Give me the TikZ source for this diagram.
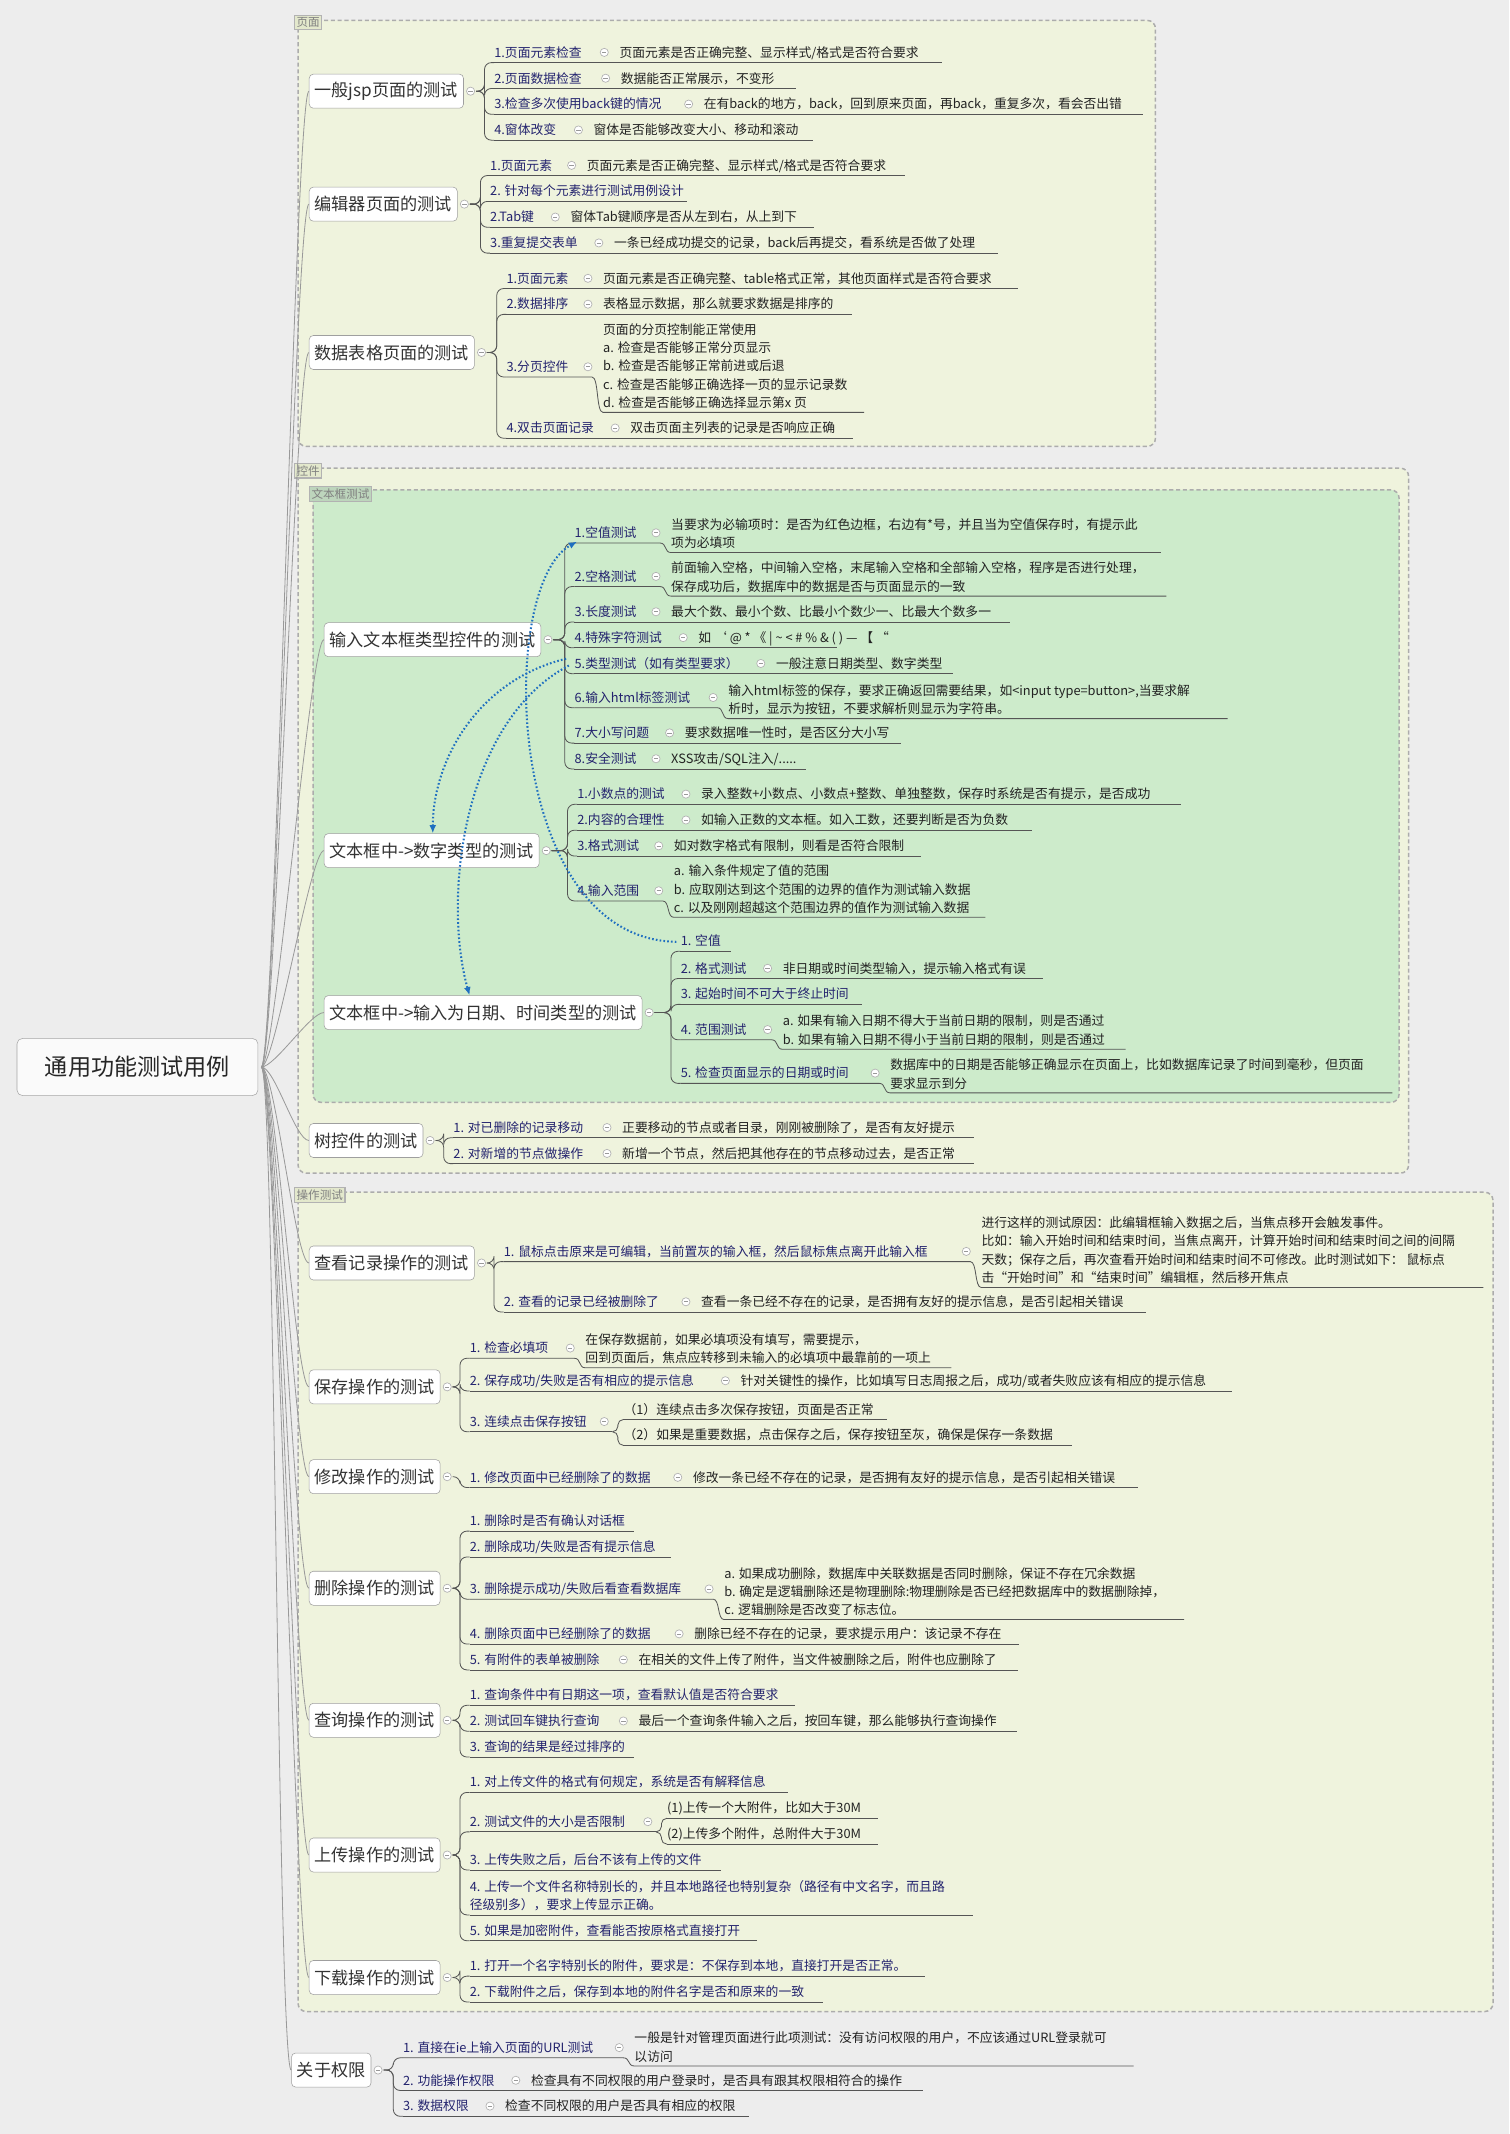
\documentclass[tikz,border=0pt]{standalone}
\usepackage{fontspec}
\setmainfont{Noto Sans CJK SC}
\usetikzlibrary{calc,arrows.meta}
\definecolor{bgc}{HTML}{EDEDED}
\definecolor{grpc}{HTML}{EFF3DD}
\definecolor{grnc}{HTML}{CDEBCB}
\definecolor{labc}{HTML}{23236E}
\definecolor{dscc}{HTML}{222222}
\definecolor{lnc}{HTML}{555555}
\definecolor{relc}{HTML}{1F6FC0}
\definecolor{tagc}{HTML}{E3E8CC}
\newcommand\fsA{\fontsize{9.4}{13.5}\selectfont}
\tikzset{
 lab/.style={text=labc,font=\fsA,inner sep=0pt,anchor=base west,align=left},
 dsc/.style={text=dscc,font=\fsA,inner sep=0pt,anchor=south west,align=left},
 uline/.style={draw=lnc,line width=0.6pt},
 brl/.style={draw=lnc,line width=0.6pt,rounded corners=5pt},
 rootl/.style={draw=gray!80,line width=0.6pt},
 mainn/.style={draw=gray!75,fill=white,rounded corners=3pt,font=\fontsize{12.6}{14}\selectfont,text=black!80,minimum height=25pt,inner xsep=4pt,anchor=west},
 grp/.style={draw=gray!65,line width=1.1pt,rounded corners=6pt,dash pattern=on 3pt off 2pt},
 tagn/.style={draw=gray!60,fill=tagc,line width=0.9pt,font=\fontsize{8.5}{9}\selectfont,text=gray,inner sep=1.5pt,anchor=north west},
 rel/.style={draw=relc,line width=1.5pt,dash pattern=on 1.2pt off 1.6pt,-{Latex[length=6pt,width=5pt]}},
}
\newcommand\Mk[2]{\draw[gray!60,fill=white,line width=0.5pt] (#1,#2) circle[radius=3];
 \draw[gray!80,line width=0.5pt] (#1-1.6,#2) -- (#1+1.6,#2);}
\newcommand\LfA[7]{\coordinate (#1) at (#2,#3);
 \node[lab] at (#2,#3-4) {#4};
 \node[dsc,anchor=base west] at (#5,#3-4) {#6};
 \Mk{#5-11}{#3-7.5}
 \draw[uline] (#2,#3) -- (#7,#3);}
\newcommand\LfS[5]{\coordinate (#1) at (#2,#3);
 \node[lab] at (#2,#3-4) {#4};
 \draw[uline] (#2,#3) -- (#5,#3);}
\newcommand\LfD[5]{\coordinate (#1) at (#2,#3);
 \node[dsc,anchor=base west] at (#2,#3-4) {#4};
 \draw[uline] (#2,#3) -- (#5,#3);}
\newcommand\LfM[8]{\coordinate (#1) at (#2,#3);
 \node[lab] at (#2,#3-4) {#4};
 \node[dsc] at (#5,#7-2.5) {#6};
 \Mk{#5-11}{#3-7.5}
 \draw[uline] (#2,#3) -- (#5-8,#3) .. controls (#5-3,#3) and (#5-5,#7) .. (#5,#7) -- (#8,#7);}
\newcommand\Br[2]{\draw[brl] (#1) -| ($(#2)+(-7,0)$) -- (#2);}
\newcommand\MainN[4]{\node[mainn] (#1) at (#2,#3) {#4};
 \path (#1.east) ++(5,0) coordinate (#1M) ++(4,0) coordinate (#1P);
 \draw[gray!60,fill=white,line width=0.5pt] (#1M) circle[radius=3];
 \draw[gray!80,line width=0.5pt] ($(#1M)+(-1.6,0)$) -- ($(#1M)+(1.6,0)$);}
\begin{document}
\begin{tikzpicture}[x=1pt,y=-1pt]
\fill[bgc] (0,0) rectangle (1109,1568);
\useasboundingbox (0,0) rectangle (1109,1568);
\filldraw[grp,fill=grpc] (219,15) rectangle (849,328);
\node[tagn] at (216,11) {页面};
\filldraw[grp,fill=grpc] (219,344) rectangle (1035,862);
\node[tagn] at (216,340) {控件};
\filldraw[grp,fill=grnc] (230,360) rectangle (1028,810);
\node[tagn,fill=grnc!80!gray] at (227,357) {文本框测试};
\filldraw[grp,fill=grpc] (219,876) rectangle (1097,1478);
\node[tagn] at (216,872) {操作测试};
\node[draw=gray!70,fill=white!96!gray,rounded corners=4pt,font=\fontsize{17}{18}\selectfont,text=black!85,minimum width=177pt,minimum height=42pt] (root) at (101,784) {通用功能测试用例};
\coordinate (rP) at (192,784);
\MainN{m1}{227}{67}{一般jsp页面的测试}
\MainN{m2}{227}{150}{编辑器页面的测试}
\MainN{m3}{227}{259}{数据表格页面的测试}
\MainN{m4}{238}{470}{输入文本框类型控件的测试}
\MainN{m5}{238}{625}{文本框中->数字类型的测试}
\MainN{m6}{238}{744}{文本框中->输入为日期、时间类型的测试}
\MainN{m7}{227}{838}{树控件的测试}
\MainN{m8}{227}{928}{查看记录操作的测试}
\MainN{m9}{227}{1019}{保存操作的测试}
\MainN{m10}{227}{1085}{修改操作的测试}
\MainN{m11}{227}{1167}{删除操作的测试}
\MainN{m12}{227}{1264}{查询操作的测试}
\MainN{m13}{227}{1363}{上传操作的测试}
\MainN{m14}{227}{1453}{下载操作的测试}
\MainN{m15}{214}{1521}{关于权限}
\foreach \q in {m1,m2,m3,m4,m5,m6,m7,m8,m9,m10,m11,m12,m13,m14,m15}
  {\draw[rootl] (rP) .. controls +(10,0) and +(-10,0) .. (\q.west);}
\LfA{a1}{363}{46}{1.页面元素检查}{455}{页面元素是否正确完整、显示样式/格式是否符合要求}{692}
\LfA{a2}{363}{65}{2.页面数据检查}{456}{数据能否正常展示，不变形}{585}
\LfA{a3}{363}{84}{3.检查多次使用back键的情况}{517}{在有back的地方，back，回到原来页面，再back，重复多次，看会否出错}{840}
\LfA{a4}{363}{103}{4.窗体改变}{436}{窗体是否能够改变大小、移动和滚动}{597}
\foreach \q in {a1,a2,a3,a4} {\Br{m1P}{\q}}
\LfA{b1}{360}{129}{1.页面元素}{431}{页面元素是否正确完整、显示样式/格式是否符合要求}{665}
\LfS{b2}{360}{148}{2. 针对每个元素进行测试用例设计}{505}
\LfA{b3}{360}{167}{2.Tab键}{419}{窗体Tab键顺序是否从左到右，从上到下}{598}
\LfA{b4}{360}{186}{3.重复提交表单}{451}{一条已经成功提交的记录，back后再提交，看系统是否做了处理}{733}
\foreach \q in {b1,b2,b3,b4} {\Br{m2P}{\q}}
\LfA{c1}{372}{212}{1.页面元素}{443}{页面元素是否正确完整、table格式正常，其他页面样式是否符合要求}{748}
\LfA{c2}{372}{231}{2.数据排序}{443}{表格显示数据，那么就要求数据是排序的}{626}
\LfM{c3}{372}{277}{3.分页控件}{443}{页面的分页控制能正常使用\\a. 检查是否能够正常分页显示\\b. 检查是否能够正常前进或后退\\c. 检查是否能够正确选择一页的显示记录数\\d. 检查是否能够正确选择显示第x 页}{303}{635}
\LfA{c4}{372}{322}{4.双击页面记录}{463}{双击页面主列表的记录是否响应正确}{627}
\foreach \q in {c1,c2,c3,c4} {\Br{m3P}{\q}}
\LfM{d1}{422}{399}{1.空值测试}{493}{当要求为必输项时：是否为红色边框，右边有*号，并且当为空值保存时，有提示此\\项为必填项}{406}{853}
\LfM{d2}{422}{431}{2.空格测试}{493}{前面输入空格，中间输入空格，末尾输入空格和全部输入空格，程序是否进行处理，\\保存成功后，数据库中的数据是否与页面显示的一致}{438}{857}
\LfA{d3}{422}{457}{3.长度测试}{493}{最大个数、最小个数、比最小个数少一、比最大个数多一}{742}
\LfA{d4}{422}{476}{4.特殊字符测试}{513}{如 ‘ @ * 《 | \textasciitilde\ < \# \% \& ( ) — 【 “}{615}
\LfA{d5}{422}{495}{5.类型测试（如有类型要求）}{570}{一般注意日期类型、数字类型}{700}
\LfM{d6}{422}{520}{6.输入html标签测试}{535}{输入html标签的保存，要求正确返回需要结果，如<input type=button>,当要求解\\析时，显示为按钮，不要求解析则显示为字符串。}{528}{902}
\LfA{d7}{422}{546}{7.大小写问题}{503}{要求数据唯一性时，是否区分大小写}{662}
\LfA{d8}{422}{565}{8.安全测试}{493}{XSS攻击/SQL注入/.....}{592}
\foreach \q in {d1,d2,d3,d4,d5,d6,d7,d8} {\Br{m4P}{\q}}
\LfA{e1}{424}{591}{1.小数点的测试}{515}{录入整数+小数点、小数点+整数、单独整数，保存时系统是否有提示，是否成功}{868}
\LfA{e2}{424}{610}{2.内容的合理性}{515}{如输入正数的文本框。如入工数，还要判断是否为负数}{758}
\LfA{e3}{424}{629}{3.格式测试}{495}{如对数字格式有限制，则看是否符合限制}{677}
\LfM{e4}{424}{662}{4.输入范围}{495}{a. 输入条件规定了值的范围\\b. 应取刚达到这个范围的边界的值作为测试输入数据\\c. 以及刚刚超越这个范围边界的值作为测试输入数据}{674}{724}
\foreach \q in {e1,e2,e3,e4} {\Br{m5P}{\q}}
\LfS{f1}{500}{699}{1. 空值}{537}
\LfA{f2}{500}{719}{2. 格式测试}{575}{非日期或时间类型输入，提示输入格式有误}{766}
\LfS{f3}{500}{738}{3. 起始时间不可大于终止时间}{633}
\LfM{f4}{500}{764}{4. 范围测试}{575}{a. 如果有输入日期不得大于当前日期的限制，则是否通过\\b. 如果有输入日期不得小于当前日期的限制，则是否通过}{771}{827}
\LfM{f5}{500}{796}{5. 检查页面显示的日期或时间}{654}{数据库中的日期是否能够正确显示在页面上，比如数据库记录了时间到毫秒，但页面\\要求显示到分}{803}{1023}
\foreach \q in {f1,f2,f3,f4,f5} {\Br{m6P}{\q}}
\LfA{g1}{333}{836}{1. 对已删除的记录移动}{457}{正要移动的节点或者目录，刚刚被删除了，是否有友好提示}{716}
\LfA{g2}{333}{855}{2. 对新增的节点做操作}{457}{新增一个节点，然后把其他存在的节点移动过去，是否正常}{716}
\foreach \q in {g1,g2} {\Br{m7P}{\q}}
\LfM{h1}{370}{927}{1. 鼠标点击原来是可编辑，当前置灰的输入框，然后鼠标焦点离开此输入框}{721}{进行这样的测试原因：此编辑框输入数据之后，当焦点移开会触发事件。\\比如：输入开始时间和结束时间，当焦点离开，计算开始时间和结束时间之间的间隔\\天数；保存之后，再次查看开始时间和结束时间不可修改。此时测试如下： 鼠标点\\击“开始时间”和“结束时间”编辑框，然后移开焦点}{946}{1090}
\LfA{h2}{370}{964}{2. 查看的记录已经被删除了}{515}{查看一条已经不存在的记录，是否拥有友好的提示信息，是否引起相关错误}{842}
\foreach \q in {h1,h2} {\Br{m8P}{\q}}
\LfM{i1}{345}{998}{1. 检查必填项}{430}{在保存数据前，如果必填项没有填写，需要提示，\\回到页面后，焦点应转移到未输入的必填项中最靠前的一项上}{1005}{699}
\LfA{i2}{345}{1022}{2. 保存成功/失败是否有相应的提示信息}{544}{针对关键性的操作，比如填写日志周报之后，成功/或者失败应该有相应的提示信息}{905}
\LfS{i3}{345}{1052}{3. 连续点击保存按钮}{450}
\Mk{444}{1044.5}
\coordinate (i3P) at (450,1052);
\LfD{i31}{458}{1043}{（1）连续点击多次保存按钮，页面是否正常}{652}
\LfD{i32}{458}{1062}{（2）如果是重要数据，点击保存之后，保存按钮至灰，确保是保存一条数据}{788}
\foreach \q in {i1,i2,i3} {\Br{m9P}{\q}}
\foreach \q in {i31,i32} {\draw[brl,rounded corners=4pt] (i3P) -| ($(\q)+(-4,0)$) -- (\q);}
\LfA{j1}{345}{1093}{1. 修改页面中已经删除了的数据}{509}{修改一条已经不存在的记录，是否拥有友好的提示信息，是否引起相关错误}{836}
\Br{m10P}{j1}
\LfS{k1}{345}{1125}{1. 删除时是否有确认对话框}{466}
\LfS{k2}{345}{1144}{2. 删除成功/失败是否有提示信息}{493}
\LfM{k3}{345}{1175}{3. 删除提示成功/失败后看查看数据库}{532}{a. 如果成功删除，数据库中关联数据是否同时删除，保证不存在冗余数据\\b. 确定是逻辑删除还是物理删除:物理删除是否已经把数据库中的数据删除掉，\\c. 逻辑删除是否改变了标志位。}{1190}{870}
\LfA{k4}{345}{1208}{4. 删除页面中已经删除了的数据}{510}{删除已经不存在的记录，要求提示用户：该记录不存在}{749}
\LfA{k5}{345}{1227}{5. 有附件的表单被删除}{469}{在相关的文件上传了附件，当文件被删除之后，附件也应删除了}{748}
\foreach \q in {k1,k2,k3,k4,k5} {\Br{m11P}{\q}}
\LfS{l1}{345}{1253}{1. 查询条件中有日期这一项，查看默认值是否符合要求}{584}
\LfA{l2}{345}{1272}{2. 测试回车键执行查询}{469}{最后一个查询条件输入之后，按回车键，那么能够执行查询操作}{747}
\LfS{l3}{345}{1291}{3. 查询的结果是经过排序的}{466}
\foreach \q in {l1,l2,l3} {\Br{m12P}{\q}}
\LfS{n1}{345}{1317}{1. 对上传文件的格式有何规定，系统是否有解释信息}{579}
\LfS{n2}{345}{1346}{2. 测试文件的大小是否限制}{482}
\Mk{476}{1338.5}
\coordinate (n2P) at (482,1346);
\LfD{n21}{490}{1336}{(1)上传一个大附件，比如大于30M}{645}
\LfD{n22}{490}{1355}{(2)上传多个附件，总附件大于30M}{645}
\LfS{n3}{345}{1374}{3. 上传失败之后，后台不该有上传的文件}{530}
\coordinate (n4) at (345,1407);
\node[lab,anchor=south west] at (345,1404.5) {4. 上传一个文件名称特别长的，并且本地路径也特别复杂（路径有中文名字，而且路\\径级别多），要求上传显示正确。};
\draw[uline] (345,1407) -- (715,1407);
\LfS{n5}{345}{1426}{5. 如果是加密附件，查看能否按原格式直接打开}{556}
\foreach \q in {n1,n2,n3,n4,n5} {\Br{m13P}{\q}}
\foreach \q in {n21,n22} {\draw[brl,rounded corners=4pt] (n2P) -| ($(\q)+(-4,0)$) -- (\q);}
\LfS{o1}{345}{1452}{1. 打开一个名字特别长的附件，要求是：不保存到本地，直接打开是否正常。}{680}
\LfS{o2}{345}{1471}{2. 下载附件之后，保存到本地的附件名字是否和原来的一致}{605}
\foreach \q in {o1,o2} {\Br{m14P}{\q}}
\LfM{p1}{296}{1512}{1. 直接在ie上输入页面的URL测试}{466}{一般是针对管理页面进行此项测试：没有访问权限的用户，不应该通过URL登录就可\\以访问}{1518}{833}
\LfA{p2}{296}{1536}{2. 功能操作权限}{390}{检查具有不同权限的用户登录时，是否具有跟其权限相符合的操作}{678}
\LfA{p3}{296}{1555}{3. 数据权限}{371}{检查不同权限的用户是否具有相应的权限}{550}
\foreach \q in {p1,p2,p3} {\Br{m15P}{\q}}
\coordinate (r5a) at (416,484);
\coordinate (r5b) at (418,489);
\draw[rel] (r5a) .. controls (350,500) and (318,560) .. ($(m5.north west)+(80,0)$);
\draw[rel] (r5b) .. controls (340,530) and (325,660) .. ($(m6.north west)+(107,0)$);
\coordinate (f1s) at (497,692);
\draw[rel] (f1s) .. controls (370,690) and (365,430) .. ($(d1)+(2,-1)$);
\end{tikzpicture}
\end{document}
